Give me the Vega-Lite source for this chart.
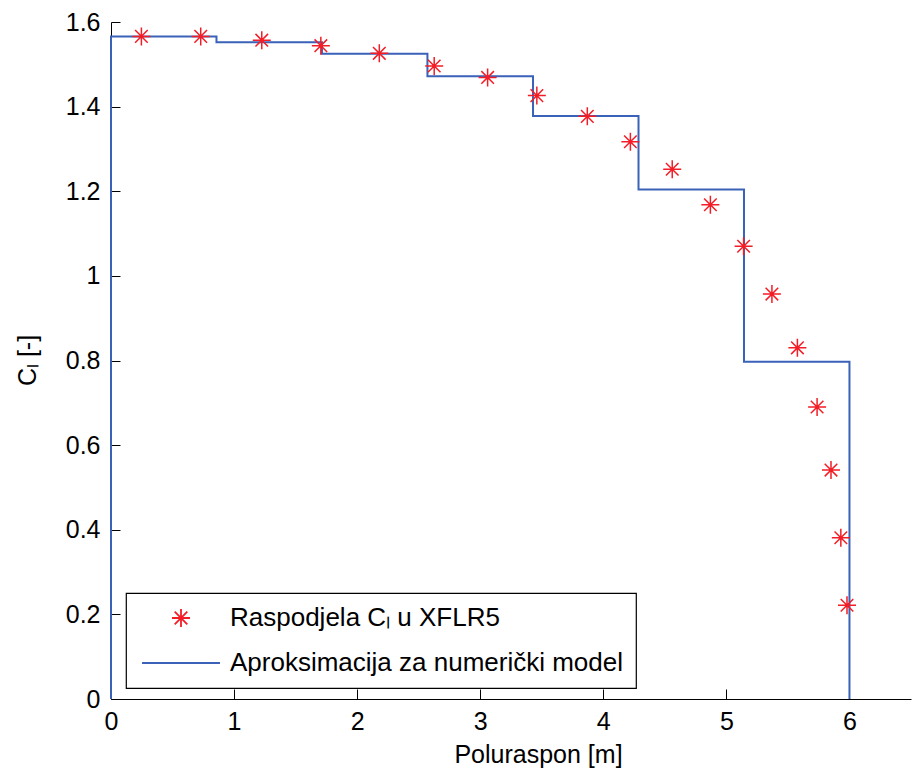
{
  "$schema": "https://vega.github.io/schema/vega-lite/v6.json",
  "autosize": {"type": "none"},
  "width": 800,
  "height": 677,
  "padding": {"left": 111, "top": 22, "right": 3, "bottom": 72},
  "background": "white",
  "datasets": {
    "xflr": [
      {"x": 0.247, "y": 1.566, "series": "Raspodjela Cₗ u XFLR5"},
      {"x": 0.729, "y": 1.566, "series": "Raspodjela Cₗ u XFLR5"},
      {"x": 1.225, "y": 1.557, "series": "Raspodjela Cₗ u XFLR5"},
      {"x": 1.705, "y": 1.544, "series": "Raspodjela Cₗ u XFLR5"},
      {"x": 2.18, "y": 1.526, "series": "Raspodjela Cₗ u XFLR5"},
      {"x": 2.626, "y": 1.496, "series": "Raspodjela Cₗ u XFLR5"},
      {"x": 3.06, "y": 1.469, "series": "Raspodjela Cₗ u XFLR5"},
      {"x": 3.46, "y": 1.426, "series": "Raspodjela Cₗ u XFLR5"},
      {"x": 3.87, "y": 1.377, "series": "Raspodjela Cₗ u XFLR5"},
      {"x": 4.22, "y": 1.317, "series": "Raspodjela Cₗ u XFLR5"},
      {"x": 4.56, "y": 1.252, "series": "Raspodjela Cₗ u XFLR5"},
      {"x": 4.87, "y": 1.168, "series": "Raspodjela Cₗ u XFLR5"},
      {"x": 5.14, "y": 1.07, "series": "Raspodjela Cₗ u XFLR5"},
      {"x": 5.37, "y": 0.957, "series": "Raspodjela Cₗ u XFLR5"},
      {"x": 5.577, "y": 0.83, "series": "Raspodjela Cₗ u XFLR5"},
      {"x": 5.737, "y": 0.69, "series": "Raspodjela Cₗ u XFLR5"},
      {"x": 5.85, "y": 0.541, "series": "Raspodjela Cₗ u XFLR5"},
      {"x": 5.93, "y": 0.381, "series": "Raspodjela Cₗ u XFLR5"},
      {"x": 5.98, "y": 0.2215, "series": "Raspodjela Cₗ u XFLR5"}
    ],
    "approx": [
      {"i": 0, "x": 0, "y": 0, "series": "Aproksimacija za numerički model"},
      {"i": 1, "x": 0, "y": 1.566, "series": "Aproksimacija za numerički model"},
      {"i": 2, "x": 0.857, "y": 1.552, "series": "Aproksimacija za numerički model"},
      {"i": 3, "x": 1.714, "y": 1.525, "series": "Aproksimacija za numerički model"},
      {"i": 4, "x": 2.571, "y": 1.472, "series": "Aproksimacija za numerički model"},
      {"i": 5, "x": 3.429, "y": 1.378, "series": "Aproksimacija za numerički model"},
      {"i": 6, "x": 4.286, "y": 1.204, "series": "Aproksimacija za numerički model"},
      {"i": 7, "x": 5.143, "y": 0.797, "series": "Aproksimacija za numerički model"},
      {"i": 8, "x": 6, "y": 0, "series": "Aproksimacija za numerički model"}
    ]
  },
  "resolve": {"axis": {"x": "independent", "y": "independent"}},
  "layer": [
    {
      "data": {"name": "approx"},
      "mark": {"type": "line", "interpolate": "step-after", "strokeWidth": 2, "clip": false},
      "encoding": {
        "x": {
          "field": "x", "type": "quantitative",
          "scale": {"domain": [0, 6.5], "nice": false, "zero": false},
          "axis": {
            "orient": "bottom", "offset": -10, "values": [0, 1, 2, 3, 4, 5, 6],
            "tickSize": 10, "labels": false, "domain": false, "title": null
          }
        },
        "y": {
          "field": "y", "type": "quantitative",
          "scale": {"domain": [0, 1.6], "nice": false},
          "axis": {
            "orient": "left", "offset": -9, "values": [0, 0.2, 0.4, 0.6, 0.8, 1, 1.2, 1.4, 1.6],
            "tickSize": 9, "labels": false, "domain": false, "title": null
          }
        },
        "order": {"field": "i", "type": "quantitative"},
        "color": {
          "field": "series", "type": "nominal",
          "scale": {
            "domain": ["Raspodjela Cₗ u XFLR5", "Aproksimacija za numerički model"],
            "range": ["#f21d26", "#3a62b8"]
          }
        }
      }
    },
    {
      "data": {"name": "xflr"},
      "mark": {"type": "point", "filled": false, "strokeWidth": 1.5, "opacity": 1, "size": 324},
      "encoding": {
        "x": {
          "field": "x", "type": "quantitative",
          "scale": {"domain": [0, 6.5], "nice": false, "zero": false},
          "axis": {
            "orient": "bottom",
            "title": "Poluraspon [m]",
            "values": [0, 1, 2, 3, 4, 5, 6],
            "format": "~g",
            "ticks": false,
            "tickSize": 0,
            "labelFlush": false,
            "labelPadding": 10,
            "titleX": 427,
            "titleY": 63,
            "titleAlign": "center",
            "titleBaseline": "alphabetic"
          }
        },
        "y": {
          "field": "y", "type": "quantitative",
          "scale": {"domain": [0, 1.6], "nice": false},
          "axis": {
            "orient": "left",
            "title": "Cₗ [-]",
            "values": [0, 0.2, 0.4, 0.6, 0.8, 1, 1.2, 1.4, 1.6],
            "format": "~g",
            "ticks": false,
            "tickSize": 0,
            "labelFlush": false,
            "labelPadding": 11,
            "titleX": -84,
            "titleY": 338,
            "titleAngle": -90,
            "titleAlign": "center",
            "titleBaseline": "middle"
          }
        },
        "color": {
          "field": "series", "type": "nominal",
          "scale": {
            "domain": ["Raspodjela Cₗ u XFLR5", "Aproksimacija za numerički model"],
            "range": ["#f21d26", "#3a62b8"]
          }
        },
        "shape": {
          "field": "series", "type": "nominal",
          "scale": {
            "domain": ["Raspodjela Cₗ u XFLR5", "Aproksimacija za numerički model"],
            "range": ["M-1,0L1,0M0,-1L0,1M-0.7,-0.7L0.7,0.7M-0.7,0.7L0.7,-0.7", "M-4.33,0L4.33,0"]
          }
        }
      }
    }
  ],
  "config": {
    "view": {"stroke": null},
    "font": "Liberation Sans",
    "axis": {
      "grid": false,
      "labelFont": "Liberation Sans",
      "labelFontSize": 25,
      "labelColor": "black",
      "titleFont": "Liberation Sans",
      "titleFontSize": 25,
      "titleFontWeight": "normal",
      "titleColor": "black",
      "domainColor": "black",
      "domainWidth": 1,
      "tickColor": "black",
      "tickWidth": 1
    },
    "legend": {
      "title": null,
      "orient": "none",
      "legendX": 15,
      "legendY": 571,
      "padding": 12,
      "rowPadding": 19,
      "strokeColor": "black",
      "strokeWidth": 1.2,
      "fillColor": "white",
      "symbolSize": 324,
      "symbolStrokeWidth": 1.8,
      "symbolOffset": 30,
      "labelOffset": 36,
      "labelFont": "Liberation Sans",
      "labelFontSize": 26,
      "labelColor": "black",
      "labelLimit": 700
    }
  }
}
